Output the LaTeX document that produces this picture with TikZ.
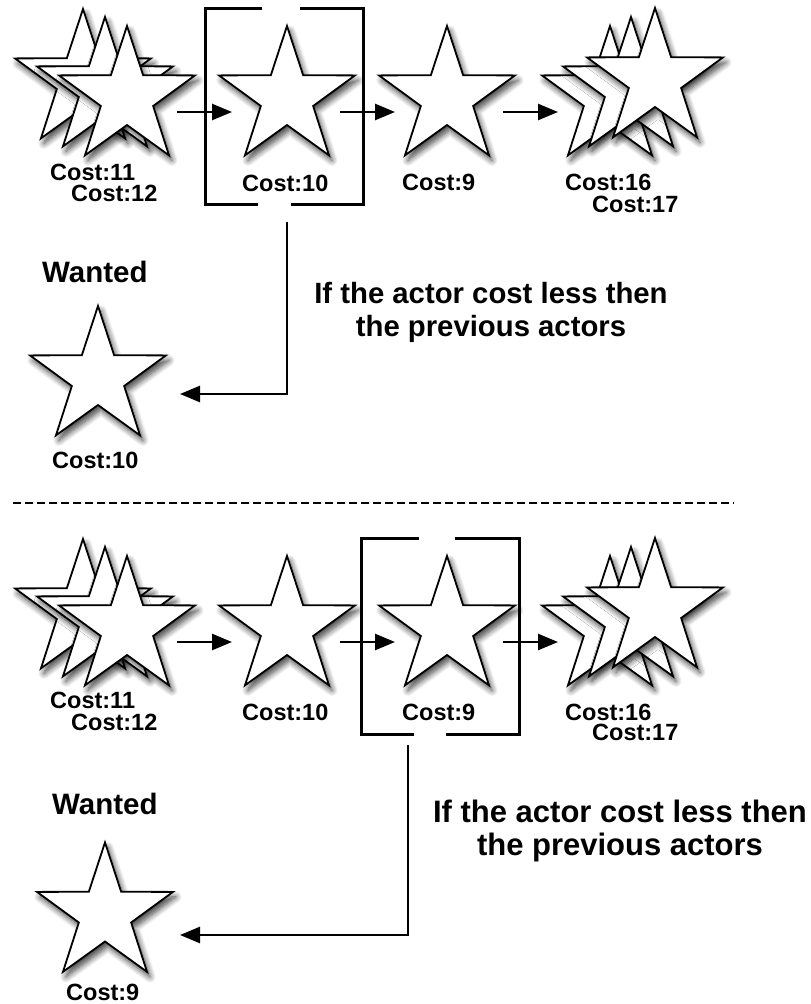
\documentclass[tikz,border=0pt]{standalone}
\usepackage{fontspec}
\setmainfont{Liberation Sans}
\usetikzlibrary{shapes.geometric,arrows.meta,calc,shadows.blur}

\begin{document}
\begin{tikzpicture}[x=1pt,y=-1pt,
  actor/.style={star, star points=5, star point ratio=2.6,
    minimum size=143pt, inner sep=0pt, outer sep=0pt,
    draw=black, line width=1.8pt, fill=white,
    blur shadow={shadow xshift=3pt, shadow yshift=-5pt,
      shadow blur radius=6pt, shadow blur steps=8, shadow opacity=75}},
  cost/.style={font=\fontsize{23.5}{28}\selectfont\bfseries,
    inner sep=0pt, anchor=base west},
  wanted/.style={font=\fontsize{29.5}{34}\selectfont\bfseries,
    inner sep=0pt, anchor=base west},
  note/.style={font=\fontsize{#1}{34}\selectfont\bfseries,
    inner sep=0pt, anchor=base},
  frame/.style={minimum width=158pt, minimum height=196pt,
    inner sep=0pt, outer sep=0pt},
  flow/.style={line width=2.6pt, -{Triangle[length=20pt,width=16pt]}},
  bracket/.style={line width=3pt},
  divider/.style={line width=2pt, dash pattern=on 8pt off 4pt}
]
\useasboundingbox (0,0) rectangle (811,1004);

% ---------------- first case: the actor costing 10 is picked
\node[actor] (aL1) at (83,80.5) {};
\node[actor] (aL2) at (105,88.5) {};
\node[actor] (aL3) at (127,97.5) {};
\node[actor] (a10) at (287,97.5) {};
\node[actor] (a9)  at (447,97.5) {};
\node[actor] (aR1) at (610,97.5) {};
\node[actor] (aR2) at (631,88.5) {};
\node[actor] (aR3) at (655,79.5) {};

\node[cost] (ca11) at (50,180.5) {Cost:11};
\node[cost] (ca12) at (71,201) {Cost:12};
\node[cost] (ca10) at (242,191) {Cost:10};
\node[cost] (ca9)  at (402,190) {Cost:9};
\node[cost] (ca16) at (565,190) {Cost:16};
\node[cost] (ca17) at (592,212) {Cost:17};

\draw[flow] ($(aL3.center)+(50,14.5)$) -- ($(a10.center)+(-55,14.5)$);
\draw[flow] ($(a10.center)+(53,14.5)$) -- ($(a9.center)+(-52,14.5)$);
\draw[flow] ($(a9.center)+(56,14.5)$) -- ($(aR1.center)+(-52,14.5)$);

\node[frame] (selA) at (284,106) {};
\draw[bracket] ($(selA.north west)+(57,0)$) -| (selA.south west) -- ++(53,0);
\draw[bracket] ($(selA.north east)+(-63,0)$) -| (selA.south east) -- ++(-72,0);

\node[wanted] (wA) at (42,282) {Wanted};
\node[actor] (pickA) at (98,377.5) {};
\node[cost] (cpA) at (52,468) {Cost:10};

\coordinate (dropA) at (287,222);
\draw[flow] (dropA) |- ($(pickA.center)+(82,16.5)$);

\node[note=29.3] (nA1) at (491,303) {If the actor cost less then};
\node[note=29.3] (nA2) at (491,336) {the previous actors};

% ---------------- separator
\draw[divider] (13,503) -- (734,503);

% ---------------- second case: the actor costing 9 is picked
\node[actor] (bL1) at (83,610.5) {};
\node[actor] (bL2) at (105,618.5) {};
\node[actor] (bL3) at (127,627.5) {};
\node[actor] (b10) at (287,627.5) {};
\node[actor] (b9)  at (447,627.5) {};
\node[actor] (bR1) at (610,627.5) {};
\node[actor] (bR2) at (631,618.5) {};
\node[actor] (bR3) at (655,609.5) {};

\node[cost] (cb11) at (50,708.5) {Cost:11};
\node[cost] (cb12) at (71,730) {Cost:12};
\node[cost] (cb10) at (242,720) {Cost:10};
\node[cost] (cb9)  at (402,720) {Cost:9};
\node[cost] (cb16) at (565,720) {Cost:16};
\node[cost] (cb17) at (592,740) {Cost:17};

\draw[flow] ($(bL3.center)+(50,14.5)$) -- ($(b10.center)+(-55,14.5)$);
\draw[flow] ($(b10.center)+(53,14.5)$) -- ($(b9.center)+(-52,14.5)$);
\draw[flow] ($(b9.center)+(56,14.5)$) -- ($(bR1.center)+(-52,14.5)$);

\node[frame] (selB) at (440.5,636) {};
\draw[bracket] ($(selB.north west)+(57,0)$) -| (selB.south west) -- ++(52,0);
\draw[bracket] ($(selB.north east)+(-65,0)$) -| (selB.south east) -- ++(-74,0);

\node[wanted] (wB) at (52,814) {Wanted};
\node[actor] (pickB) at (105,914) {};
\node[cost] (cpB) at (66,1000) {Cost:9};

\coordinate (dropB) at (408,745);
\draw[flow] (dropB) |- ($(pickB.center)+(75,21)$);

\node[note=31] (nB1) at (620,822) {If the actor cost less then};
\node[note=31] (nB2) at (620,855) {the previous actors};

\end{tikzpicture}
\end{document}
